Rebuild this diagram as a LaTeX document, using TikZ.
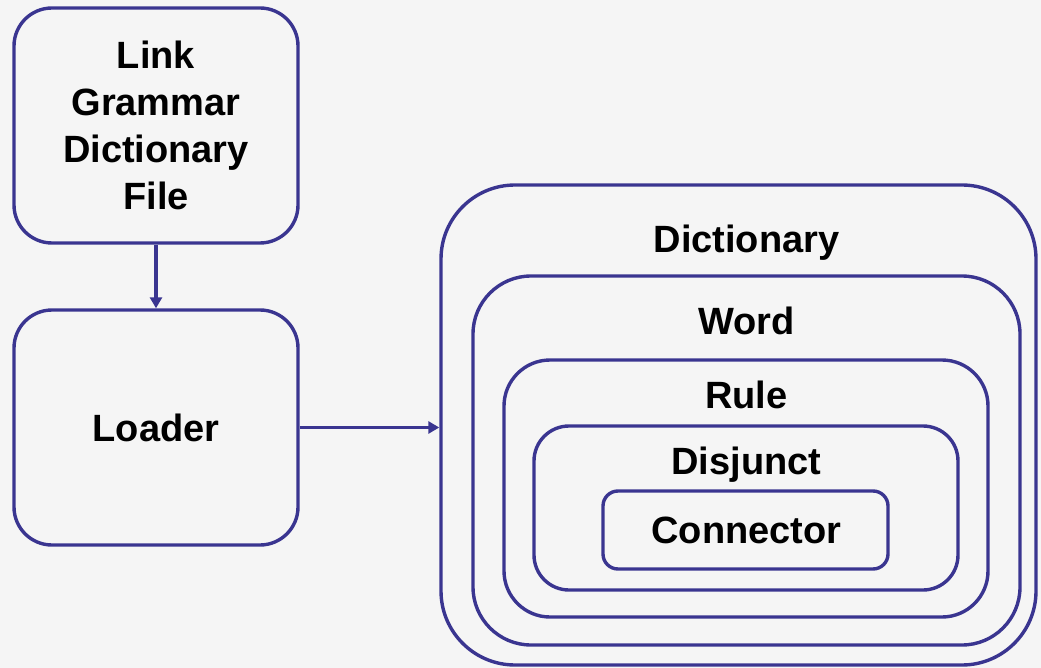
\documentclass[tikz,border=0pt]{standalone}
\usepackage{fontspec}
\setmainfont{Liberation Sans}
\usetikzlibrary{arrows.meta}
\definecolor{edge}{HTML}{3A3590}
\definecolor{paper}{HTML}{F5F5F5}
\begin{document}
\begin{tikzpicture}[x=1pt,y=-1pt,
  box/.style={draw=edge, line width=3.4pt, rounded corners=#1, inner sep=0pt,
    align=center, font=\fontsize{38}{47}\selectfont\bfseries},
  box/.default=38pt,
  boxtext/.style={font=\fontsize{38}{47}\selectfont\bfseries, text=black,
    inner sep=0pt, anchor=base},
  link/.style={draw=edge, line width=3.4pt, -{Triangle[length=11pt,width=12pt]}}]
  \fill[paper] (0,0) rectangle (1041,668);
  \useasboundingbox (0,0) rectangle (1041,668);

  % left column: source file and loader
  \node[box, minimum width=284pt, minimum height=235pt] (file) at (156,125.5)
    {Link\\Grammar\\Dictionary\\File};
  \node[box, minimum width=284pt, minimum height=235pt] (loader) at (156,427.5)
    {Loader};

  % nested containers
  \node[box=74pt, minimum width=595pt, minimum height=480pt] (dict) at (738.5,425) {};
  \node[box=58pt, minimum width=547pt, minimum height=369pt] (word) at (746.5,460.5) {};
  \node[box=46pt, minimum width=484pt, minimum height=257pt] (rule) at (746,488.5) {};
  \node[box=35pt, minimum width=424pt, minimum height=164pt] (disj) at (746,508) {};
  \node[box=15pt, minimum width=285pt, minimum height=78pt] (conn) at (745.5,530) {};

  \node[boxtext] (dicttext) at (746.5,253) {Dictionary};
  \node[boxtext] (wordtext) at (746.5,334) {Word};
  \node[boxtext] (ruletext) at (746.5,408) {Rule};
  \node[boxtext] (disjtext) at (746.5,474) {Disjunct};
  \node[boxtext] (conntext) at (746.5,543) {Connector};

  % data flow
  \draw[link] (file.south) -- (loader.north);
  \draw[link] (loader.east) -- (loader.east -| dict.west);
\end{tikzpicture}
\end{document}
